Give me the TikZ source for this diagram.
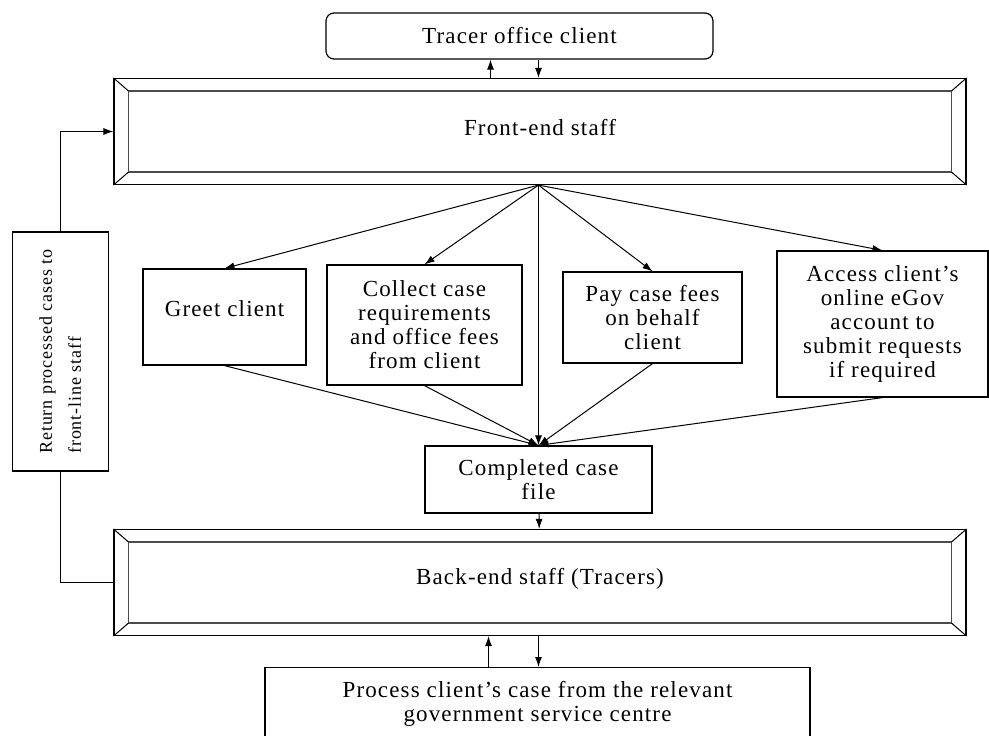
\documentclass[tikz,border=0pt]{standalone}
\usepackage{fontspec}
\setmainfont{Liberation Serif}[LetterSpace=5]
\usetikzlibrary{arrows.meta,positioning,calc}

% raised frame drawn round a staff node
\newcommand{\bevel}[1]{%
    \draw[gray!60!black, line width=1.4pt] ($(#1.north west)+(15,13)$) rectangle ($(#1.south east)+(-15,-13)$);
    \draw[line width=1pt] (#1.north west) -- ++(15,13) (#1.north east) -- ++(-15,13)
        (#1.south west) -- ++(15,-13) (#1.south east) -- ++(-15,-13);
}

\begin{document}
\begin{tikzpicture}[
    x=1pt, y=-1pt,
    font=\fontsize{23}{24}\selectfont,
    box/.style={
        rectangle,
        draw,
        line width=1.2pt,
        align=center,
        inner sep=2pt
    },
    stagebox/.style={box, minimum width=852, minimum height=106},
    arrow/.style={-{Latex[length=10pt,width=7pt]}, line width=1pt}
]
    \clip (0,0) rectangle (989,736);

    \node[box, rounded corners=8pt, minimum width=387, minimum height=46] (client) at (519.5,36) {Tracer office client};
    \node[stagebox] (front) at (540,131.5) {\raisebox{8pt}{Front-end staff}};
    \node[box, minimum width=96, minimum height=239, font=\fontsize{18}{29}\selectfont] (ret) at (60.5,351.5)
        {\rotatebox{90}{\begin{tabular}{@{}l@{}}Return processed cases to\\front-line staff\end{tabular}}};
    \node[box, minimum width=163, minimum height=96] (greet) at (224.5,317) {\raisebox{16pt}{Greet client}};
    \node[box, minimum width=195, minimum height=120] (collect) at (424.5,325) {Collect case\\requirements\\and office fees\\from client};
    \node[box, minimum width=179, minimum height=91] (pay) at (652.5,317.5) {Pay case fees\\on behalf\\client};
    \node[box, minimum width=211, minimum height=146] (access) at (882.5,324) {Access client’s\\online eGov\\account to\\submit requests\\if required};
    \node[box, minimum width=227, minimum height=67] (completed) at (538.5,479.5) {Completed case\\file};
    \node[stagebox] (back) at (540,582.5) {\raisebox{12pt}{Back-end staff (Tracers)}};
    \node[box, anchor=north, minimum width=545, minimum height=75] (process) at (537.5,667)
        {\raisebox{10pt}{\begin{tabular}{@{}c@{}}Process client’s case from the relevant\\government service centre\end{tabular}}};

    \bevel{front}
    \bevel{back}

    \coordinate (hub) at (front.south -| completed.north);

    \draw[arrow] ($(front.north -| completed.north)+(-48,0)$) -- ($(client.south -| completed.north)+(-48,0)$);
    \draw[arrow] (client.south -| completed.north) -- (front.north -| completed.north);
    \draw[arrow] (ret.north) |- (front.west);
    \draw[line width=1pt] (ret.south) |- (back.west);

    \foreach \task in {greet,collect,pay,access} {
        \draw[arrow] (hub) -- (\task.north);
        \draw[arrow] (\task.south) -- (completed.north);
    }
    \draw[arrow] (hub) -- (completed.north);

    \draw[arrow] (completed) -- (back);
    \draw[arrow] ($(process.north -| completed.north)+(-50,0)$) -- ($(back.south -| completed.north)+(-50,0)$);
    \draw[arrow] (back.south -| completed.north) -- (process.north -| completed.north);
\end{tikzpicture}
\end{document}
